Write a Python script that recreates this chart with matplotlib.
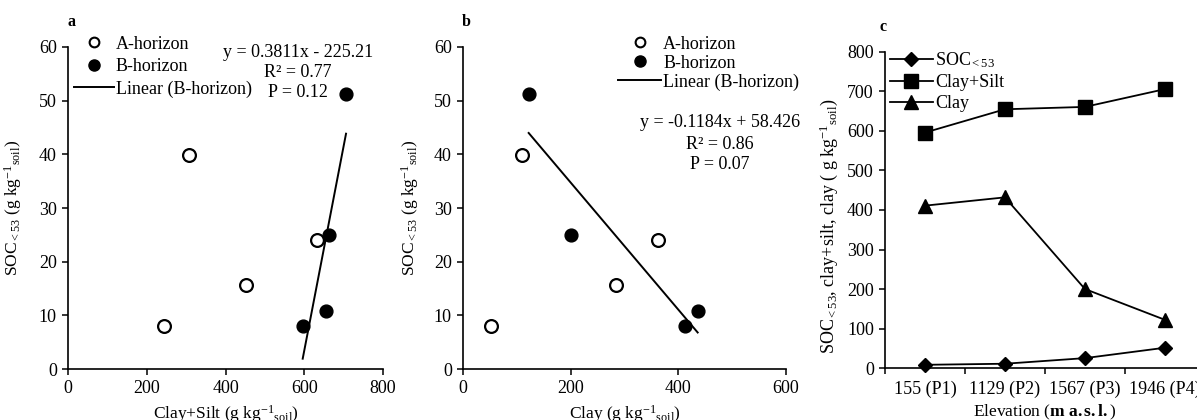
import numpy as np
import matplotlib
matplotlib.use("Agg")
import matplotlib.pyplot as plt
from matplotlib.lines import Line2D

plt.rcParams['font.family'] = ['Liberation Serif', 'DejaVu Serif']
plt.rcParams['mathtext.fontset'] = 'custom'
plt.rcParams['mathtext.rm'] = 'Liberation Serif'
plt.rcParams['mathtext.it'] = 'Liberation Serif:italic'
plt.rcParams['mathtext.bf'] = 'Liberation Serif:bold'
plt.rcParams['font.size'] = 12

# Data
a_clay_silt = [243, 308, 453, 632]
a_clay = [52, 110, 284, 362]
a_soc = [8.1, 39.8, 15.6, 24.0]

b_clay_silt = [596, 655, 663, 706]
b_clay = [413, 436, 200, 122]
b_soc = [8.1, 10.8, 25.0, 51.3]

# trend lines (B-horizon), as printed on the chart
fit_a = (0.3811, -225.21)
fit_b = (-0.1184, 58.426)
stats_a = ["y = 0.3811x - 225.21", "R² = 0.77", "P = 0.12"]
stats_b = ["y = -0.1184x + 58.426", "R² = 0.86", "P = 0.07"]

elev_labels = ["155 (P1)", "1129 (P2)", "1567 (P3)", "1946 (P4)"]
soc_elev = [8.1, 10.8, 25.0, 51.3]
clay_silt_elev = [596, 655, 661, 706]
clay_elev = [411, 432, 200, 122]

fig = plt.figure(figsize=(11.97, 4.2), dpi=100)
ax_a = fig.add_axes([0.0568, 0.1214, 0.2632, 0.7667])
ax_b = fig.add_axes([0.3868, 0.1214, 0.2698, 0.7667])
ax_c = fig.add_axes([0.7393, 0.1238, 0.2673, 0.7524])

ylab = r"SOC$_{\mathrm{<53}}$ (g kg$^{\mathrm{-1}}$$_{\mathrm{soil}}$)"
FS = 13


def style(ax):
    for s in ['top', 'right']:
        ax.spines[s].set_visible(False)
    for s in ['left', 'bottom']:
        ax.spines[s].set_linewidth(1.2)
    ax.tick_params(direction='out', length=4, width=1.1, labelsize=FS, pad=4)


def scatter_panel(ax, xa, xb, fit, xmax, label):
    ax.scatter(xa, a_soc, s=85, facecolor='white', edgecolor='black', linewidth=1.6,
               zorder=3, clip_on=False)
    ax.scatter(xb, b_soc, s=85, facecolor='black', edgecolor='black', linewidth=1.0,
               zorder=3, clip_on=False)
    xs = np.array([min(xb), max(xb)])
    ax.plot(xs, fit[0] * xs + fit[1], color='black', lw=1.4, zorder=2)
    ax.set_xlim(0, xmax)
    ax.set_ylim(0, 60)
    ax.set_yticks(range(0, 61, 10))
    ax.set_xticks(range(0, xmax + 1, 200))
    style(ax)
    ax.set_ylabel(ylab, fontsize=12.5)
    ax.set_xlabel(label, fontsize=12.5)
    ax.xaxis.set_label_coords(0.5, -0.105)


scatter_panel(ax_a, a_clay_silt, b_clay_silt, fit_a, 800,
              r"Clay+Silt (g kg$^{\mathrm{-1}}$$_{\mathrm{soil}}$)")
scatter_panel(ax_b, a_clay, b_clay, fit_b, 600,
              r"Clay (g kg$^{\mathrm{-1}}$$_{\mathrm{soil}}$)")
ax_a.yaxis.set_label_coords(-0.14, 0.5)
ax_b.yaxis.set_label_coords(-0.13, 0.5)

handles = [
    Line2D([], [], marker='o', ls='none', mfc='white', mec='black', mew=1.5, ms=7),
    Line2D([], [], marker='o', ls='none', mfc='black', mec='black', ms=8),
    Line2D([], [], color='black', lw=1.4),
]
names = ["A-horizon", "B-horizon", "Linear (B-horizon)"]
ax_a.legend(handles, names, loc='upper left', bbox_to_anchor=(0.02, 1.035), frameon=False,
            fontsize=FS, handlelength=2.2, handletextpad=0.1, labelspacing=0.3,
            borderpad=0, borderaxespad=0)
ax_b.legend(handles, names, loc='upper left', bbox_to_anchor=(0.48, 1.035), frameon=False,
            fontsize=FS, handlelength=2.4, handletextpad=0.1, labelspacing=0.1,
            borderpad=0, borderaxespad=0)

for line, yy in zip(stats_a, [0.984, 0.922, 0.860]):
    ax_a.text(0.73, yy, line, transform=ax_a.transAxes, ha='center', va='center', fontsize=FS)
for line, yy in zip(stats_b, [0.765, 0.697, 0.635]):
    ax_b.text(0.796, yy, line, transform=ax_b.transAxes, ha='center', va='center', fontsize=FS)

# panel c
x = np.arange(len(elev_labels))
ax_c.plot(x, soc_elev, color='black', lw=1.3, marker='D', ms=7, mfc='black', mec='black',
          label=r"SOC$_{\mathrm{<53}}$", clip_on=False, zorder=3)
ax_c.plot(x, clay_silt_elev, color='black', lw=1.3, marker='s', ms=10, mfc='black', mec='black',
          label="Clay+Silt", zorder=3)
ax_c.plot(x, clay_elev, color='black', lw=1.3, marker='^', ms=10, mfc='black', mec='black',
          label="Clay", zorder=3)
ax_c.set_xlim(-0.5, 3.5)
ax_c.set_ylim(0, 800)
ax_c.set_yticks(range(0, 801, 100))
ax_c.set_xticks(x)
ax_c.set_xticklabels(elev_labels)
ax_c.set_xticks(np.arange(-0.5, 3.6, 1), minor=True)
style(ax_c)
ax_c.tick_params(axis='x', which='major', length=0, pad=9)
ax_c.tick_params(axis='x', which='minor', direction='out', length=4, width=1.1)
ax_c.set_ylabel(r"SOC$_{\mathrm{<53}}$, clay+silt, clay ( g kg$^{\mathrm{-1}}$$_{\mathrm{soil}}$)",
                fontsize=13)
ax_c.yaxis.set_label_coords(-0.14, 0.45)
ax_c.set_xlabel(r"Elevation ($\mathbf{m\ a.s.l.}$)", fontsize=12.5)
ax_c.xaxis.set_label_coords(0.5, -0.11)
ax_c.legend(loc='upper left', bbox_to_anchor=(0.015, 1.005), frameon=False, fontsize=FS,
            handlelength=2.4, handletextpad=0.1, labelspacing=0.22, borderpad=0, borderaxespad=0)

for ax, lab, dx, dy in [(ax_a, 'a', 68, 22), (ax_b, 'b', 462, 22), (ax_c, 'c', 880, 27)]:
    fig.text(dx / 1197, 1 - dy / 420, lab, fontweight='bold', fontsize=11.5, ha='left', va='center')

fig.savefig("out.png", dpi=100)
